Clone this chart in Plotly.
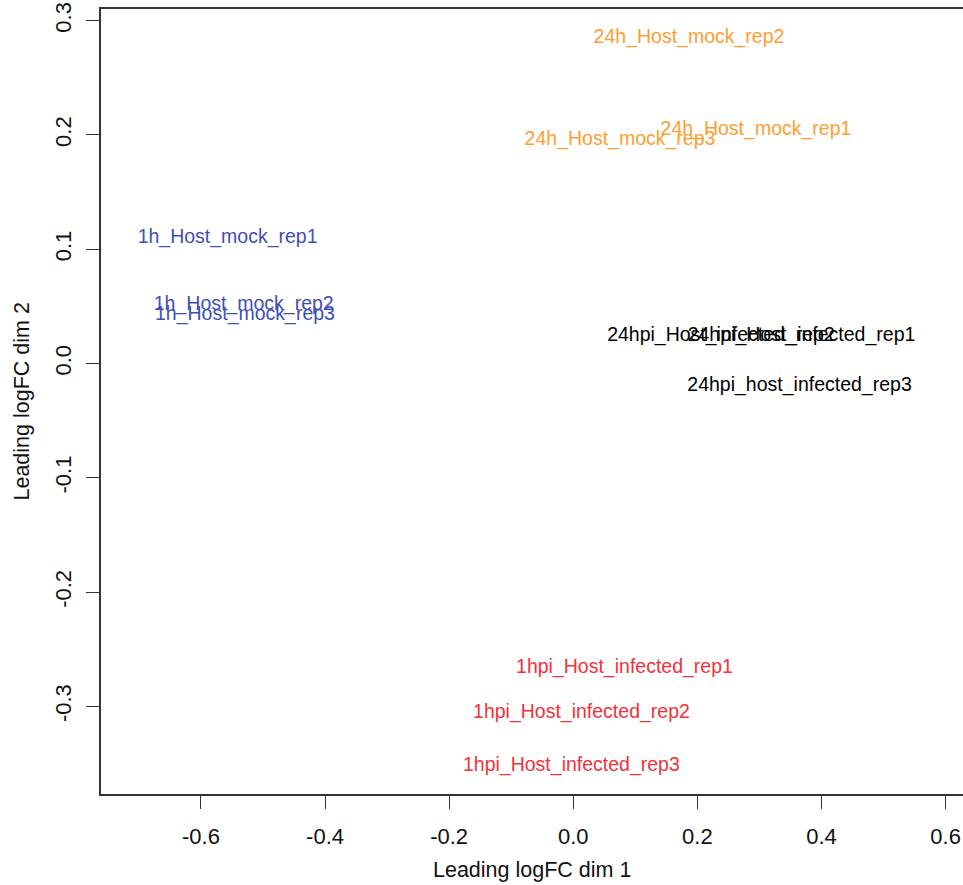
import plotly.graph_objects as go

# Sample labels and MDS coordinates
mock1h_labels = ["1h_Host_mock_rep1", "1h_Host_mock_rep2", "1h_Host_mock_rep3"]
mock1h_x = [-0.557, -0.531, -0.529]
mock1h_y = [0.1099, 0.0512, 0.0425]

mock24h_labels = ["24h_Host_mock_rep1", "24h_Host_mock_rep2", "24h_Host_mock_rep3"]
mock24h_x = [0.2944, 0.1865, 0.0753]
mock24h_y = [0.2043, 0.2848, 0.1956]

inf24h_labels = ["24hpi_Host_infected_rep1", "24hpi_Host_infected_rep2", "24hpi_host_infected_rep3"]
inf24h_x = [0.3678, 0.238, 0.3646]
inf24h_y = [0.0241, 0.0241, -0.0196]

inf1h_labels = ["1hpi_Host_infected_rep1", "1hpi_Host_infected_rep2", "1hpi_Host_infected_rep3"]
inf1h_x = [0.0825, 0.0132, -0.003]
inf1h_y = [-0.2664, -0.3058, -0.3521]

x_ticks = [-0.6, -0.4, -0.2, 0.0, 0.2, 0.4, 0.6]
y_ticks = [-0.3, -0.2, -0.1, 0.0, 0.1, 0.2, 0.3]

FONT = "Liberation Sans, Arial, Helvetica, sans-serif"

groups = [
    (mock1h_labels, mock1h_x, mock1h_y, "#3F4FB5"),
    (mock24h_labels, mock24h_x, mock24h_y, "#FF9E30"),
    (inf24h_labels, inf24h_x, inf24h_y, "#000000"),
    (inf1h_labels, inf1h_x, inf1h_y, "#F5313A"),
]

fig = go.Figure()
for labels, xs, ys, col in groups:
    fig.add_trace(go.Scatter(
        x=xs, y=ys, text=labels, mode="text",
        textposition="middle center",
        textfont=dict(family=FONT, size=19.5, color=col),
        showlegend=False, hoverinfo="text",
    ))

fig.update_layout(
    width=963, height=885,
    margin=dict(l=101, r=0, t=9, b=91),
    paper_bgcolor="white", plot_bgcolor="white",
    font=dict(family=FONT, size=21, color="#111111"),
    xaxis=dict(
        range=[-0.761, 0.628], tickvals=x_ticks,
        ticktext=[f"{v:.1f}" for v in x_ticks],
        showgrid=False, zeroline=False,
        showline=True, linecolor="#333333", linewidth=1.5, mirror=True,
        ticks="outside", ticklen=13, tickwidth=1.3, tickcolor="#333333",
        ticklabelstandoff=9,
        tickfont=dict(family=FONT, size=22, color="#111111"),
    ),
    yaxis=dict(
        range=[-0.3766, 0.3102], tickvals=y_ticks,
        ticktext=[f"{v:.1f}" for v in y_ticks],
        showgrid=False, zeroline=False,
        showline=True, linecolor="#333333", linewidth=1.5, mirror=False,
        ticks="outside", ticklen=13, tickwidth=1.3, tickcolor="#333333",
        tickangle=-90, ticklabelstandoff=6,
        tickfont=dict(family=FONT, size=22, color="#111111"),
    ),
    annotations=[
        dict(text="Leading logFC dim 1", xref="paper", yref="paper",
             x=0.5, y=0, xanchor="center", yanchor="middle", yshift=-76,
             showarrow=False, font=dict(family=FONT, size=21.5, color="#111111")),
        dict(text="Leading logFC dim 2", xref="paper", yref="paper",
             x=0, y=0.5, xanchor="center", yanchor="middle", xshift=-80,
             textangle=-90, showarrow=False,
             font=dict(family=FONT, size=21.5, color="#111111")),
    ],
)

fig.write_html(
    "out.html",
    config={"displayModeBar": False},
    post_script="document.body.style.margin='0';"
                "document.documentElement.style.overflow='hidden';",
)
